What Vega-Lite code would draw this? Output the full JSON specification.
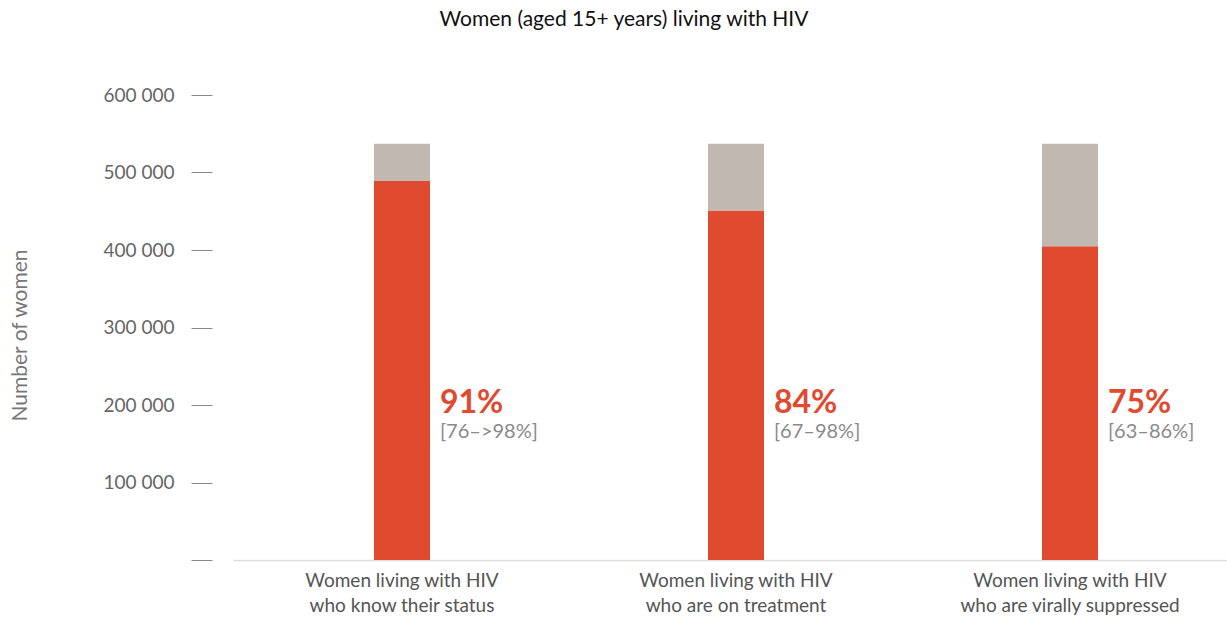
{
  "$schema": "https://vega.github.io/schema/vega-lite/v6.json",
  "autosize": {"type": "none"},
  "width": 1006,
  "height": 465,
  "padding": {"left": 233, "top": 95, "right": 0, "bottom": 58},
  "background": "white",
  "config": {"view": {"stroke": null}, "font": "Lato"},
  "title": {
    "text": "Women (aged 15+ years) living with HIV",
    "anchor": "middle",
    "frame": "group",
    "dx": -112,
    "offset": 56,
    "fontSize": 21,
    "fontWeight": "normal",
    "color": "#111111",
    "font": "Lato"
  },
  "datasets": {
    "bars": [
      {"category": "Women living with HIV|who know their status", "part": "a", "value": 489000},
      {"category": "Women living with HIV|who know their status", "part": "b", "value": 48000},
      {"category": "Women living with HIV|who are on treatment", "part": "a", "value": 451000},
      {"category": "Women living with HIV|who are on treatment", "part": "b", "value": 86000},
      {"category": "Women living with HIV|who are virally suppressed", "part": "a", "value": 405000},
      {"category": "Women living with HIV|who are virally suppressed", "part": "b", "value": 132000}
    ],
    "labels": [
      {"category": "Women living with HIV|who know their status", "pct": "91%", "range": "[76–>98%]", "pos": 202000, "rpos": 165000},
      {"category": "Women living with HIV|who are on treatment", "pct": "84%", "range": "[67–98%]", "pos": 202000, "rpos": 165000},
      {"category": "Women living with HIV|who are virally suppressed", "pct": "75%", "range": "[63–86%]", "pos": 202000, "rpos": 165000}
    ]
  },
  "layer": [
    {
      "data": {"name": "bars"},
      "mark": {"type": "bar", "size": 56},
      "encoding": {
        "x": {
          "field": "category", "type": "nominal", "sort": null,
          "scale": {"paddingInner": 0, "paddingOuter": 0.006},
          "axis": {
            "title": null, "labelAngle": 0, "ticks": false,
            "domainColor": "#dddddd", "domainWidth": 1.5,
            "labelExpr": "split(datum.label, '|')",
            "labelFontSize": 19, "labelColor": "#555555", "labelPadding": 11,
            "labelLineHeight": 25, "labelFont": "Lato", "labelLimit": 400
          }
        },
        "y": {
          "field": "value", "type": "quantitative", "stack": "zero",
          "scale": {"domain": [0, 600000], "nice": false},
          "axis": {
            "title": "Number of women", "titleFontSize": 21, "titleColor": "#777777",
            "titleFontWeight": "normal", "titleFont": "Lato", "titleX": -182, "titleY": 240,
            "values": [0, 100000, 200000, 300000, 400000, 500000, 600000],
            "labelExpr": "datum.value == 0 ? '' : format(datum.value / 1000, 'd') + ' 000'",
            "labelFontSize": 19, "labelColor": "#666666", "labelFont": "Lato",
            "labelPadding": 17, "offset": 21, "tickSize": 21, "tickColor": "#888888",
            "domain": false, "grid": false
          }
        },
        "color": {
          "field": "part", "type": "nominal", "legend": null,
          "scale": {"domain": ["a", "b"], "range": ["#e04a2f", "#c1b8b1"]}
        },
        "order": {"field": "part", "type": "nominal", "sort": "ascending"}
      }
    },
    {
      "data": {"name": "labels"},
      "mark": {"type": "text", "align": "left", "baseline": "middle", "dx": 38, "fontSize": 32, "fontWeight": "bold", "color": "#e04a2f", "font": "Lato"},
      "encoding": {
        "x": {"field": "category", "type": "nominal", "sort": null},
        "y": {"field": "pos", "type": "quantitative"},
        "text": {"field": "pct"}
      }
    },
    {
      "data": {"name": "labels"},
      "mark": {"type": "text", "align": "left", "baseline": "middle", "dx": 38, "fontSize": 20, "color": "#8a8a8a", "font": "Lato"},
      "encoding": {
        "x": {"field": "category", "type": "nominal", "sort": null},
        "y": {"field": "rpos", "type": "quantitative"},
        "text": {"field": "range"}
      }
    }
  ]
}
